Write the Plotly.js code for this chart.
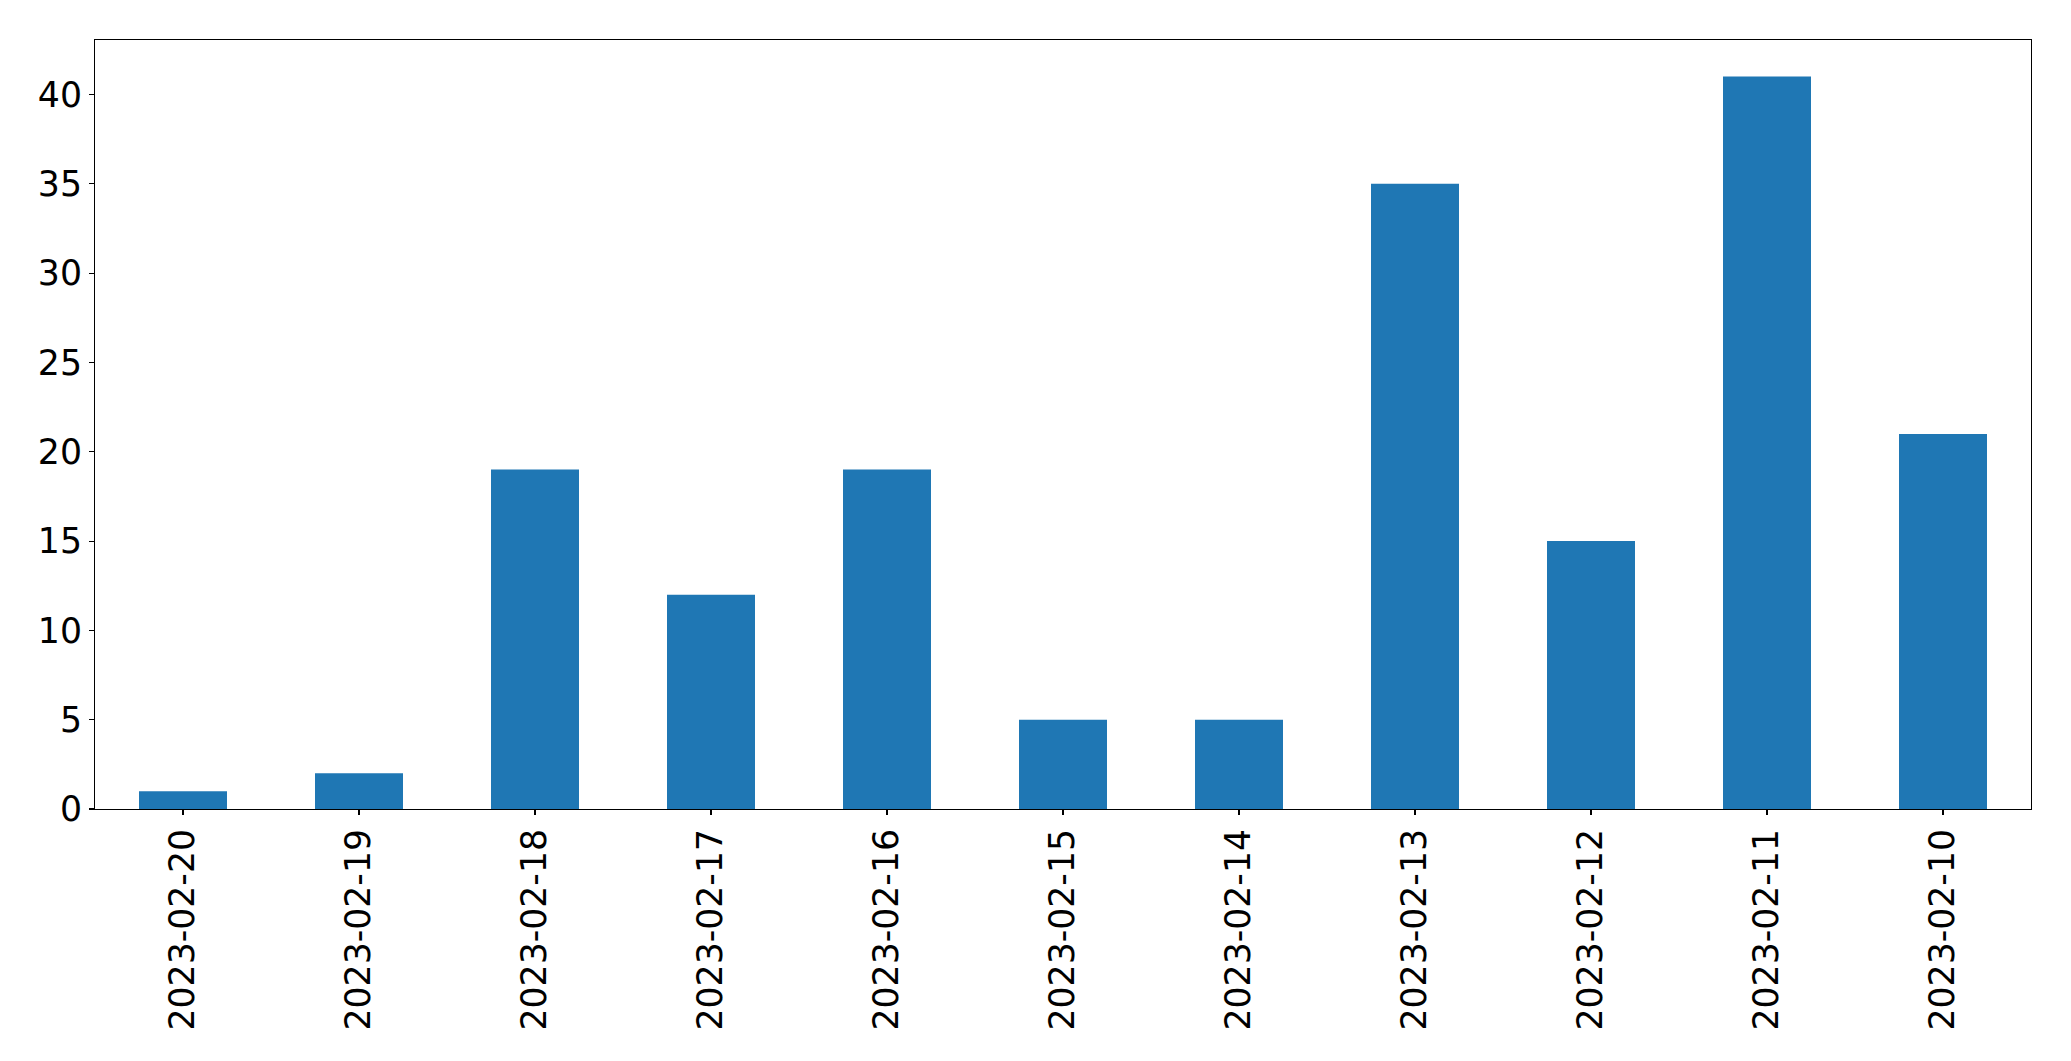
<!DOCTYPE html>
<html>
<head>
<meta charset="utf-8">
<script src="https://cdn.plot.ly/plotly-3.0.1.min.js"></script>
<style>html,body{margin:0;padding:0;background:#fff;}#chart{width:2071px;height:1061px;}</style>
</head>
<body>
<div id="chart"></div>
<script>
const dates = ["2023-02-20","2023-02-19","2023-02-18","2023-02-17","2023-02-16","2023-02-15","2023-02-14","2023-02-13","2023-02-12","2023-02-11","2023-02-10"];
const counts = [1, 2, 19, 12, 19, 5, 5, 35, 15, 41, 21];
const yTicks = [0, 5, 10, 15, 20, 25, 30, 35, 40];

const fontFamily = "DejaVu Sans, sans-serif";
const trace = {
  type: "bar",
  x: dates,
  y: counts,
  marker: {color: "#1f77b4", line: {width: 0}},
  hoverinfo: "x+y"
};
const layout = {
  width: 2071,
  height: 1061,
  margin: {l: 94.5, r: 40, t: 39.5, b: 251.5},
  paper_bgcolor: "#ffffff",
  plot_bgcolor: "#ffffff",
  showlegend: false,
  bargap: 0.5,
  font: {family: fontFamily, size: 34.7, color: "#000000"},
  xaxis: {
    type: "category",
    range: [-0.5, dates.length - 0.5],
    tickangle: -90,
    showgrid: false,
    zeroline: false,
    showline: true,
    mirror: true,
    linecolor: "#000000",
    linewidth: 1.1,
    ticks: "outside",
    ticklen: 5,
    tickwidth: 1.1,
    tickcolor: "#000000",
    tickfont: {family: fontFamily, size: 34.7, color: "#000000"}
  },
  yaxis: {
    range: [0, 41 * 1.05],
    tickmode: "array",
    tickvals: yTicks,
    ticktext: yTicks.map(String),
    showgrid: false,
    zeroline: false,
    showline: true,
    mirror: true,
    linecolor: "#000000",
    linewidth: 1.1,
    ticks: "outside",
    ticklen: 5,
    tickwidth: 1.1,
    tickcolor: "#000000",
    tickfont: {family: fontFamily, size: 34.7, color: "#000000"}
  }
};
Plotly.newPlot("chart", [trace], layout, {displayModeBar: false, staticPlot: true});
</script>
</body>
</html>
